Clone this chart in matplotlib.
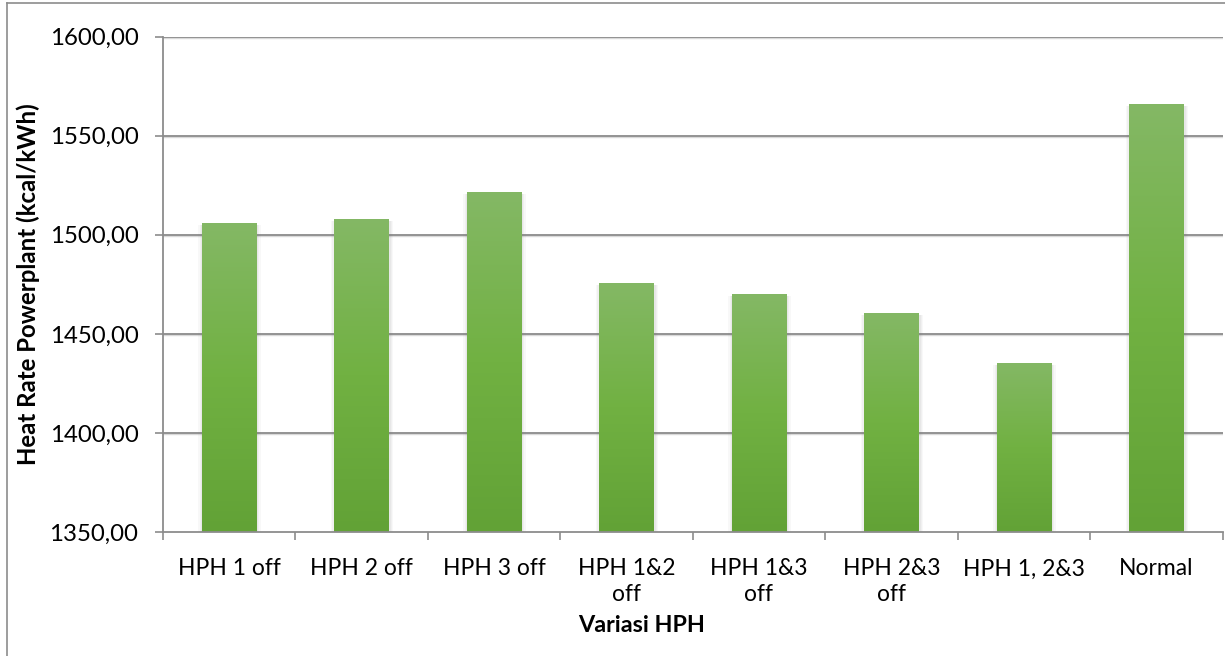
import numpy as np
import matplotlib
matplotlib.use("Agg")
import matplotlib.pyplot as plt
from matplotlib.colors import LinearSegmentedColormap
from matplotlib.lines import Line2D
from matplotlib.ticker import FuncFormatter, FixedLocator

# ---- data ----
categories = ["HPH 1 off", "HPH 2 off", "HPH 3 off", "HPH 1&2\noff",
              "HPH 1&3\noff", "HPH 2&3\noff", "HPH 1, 2&3", "Normal"]
heat_rate = [1506.2, 1508.2, 1521.4, 1475.9, 1469.9, 1460.3, 1435.5, 1566.0]
y_ticks = [1350, 1400, 1450, 1500, 1550, 1600]
x_title = "Variasi HPH"
y_title = "Heat Rate Powerplant (kcal/kWh)"

plt.rcParams['font.family'] = ['Lato', 'DejaVu Sans']

W, H = 1225, 656
fig = plt.figure(figsize=(W / 100, H / 100), dpi=100)
fig.patch.set_facecolor("white")

ax = fig.add_axes([162.7 / W, 1 - 532 / H, (1222.7 - 162.7) / W, (532 - 36.7) / H])
ax.set_facecolor("white")

ymin, ymax = y_ticks[0], y_ticks[-1]
ax.set_ylim(ymin, ymax)
ax.set_xlim(-0.5, len(categories) - 0.5)

grid_col = "#8a8a8a"
for t in y_ticks[1:]:
    ax.axhline(t, color=grid_col, lw=1.3, zorder=1)
    ax.axhline(t - 0.55, color="#d9d9d9", lw=1.0, zorder=0.9)

x = np.arange(len(categories))
bw = 0.41

# soft shadow
for k, (grow, a) in enumerate([(0.06, 0.05), (0.04, 0.06), (0.02, 0.08)]):
    ax.bar(x + 0.005, np.array(heat_rate) - ymin - 1.0, width=bw + grow,
           bottom=ymin, color="#7f7f7f", alpha=a, zorder=2, linewidth=0)

bars = ax.bar(x, np.array(heat_rate) - ymin, width=bw, bottom=ymin,
              color="none", linewidth=0, zorder=3)

cmap = LinearSegmentedColormap.from_list("g", ["#62a236", "#71b142", "#84b865"])
grad = np.linspace(0, 1, 256).reshape(-1, 1)
for b in bars:
    x0 = b.get_x()
    w = b.get_width()
    top = b.get_y() + b.get_height()
    im = ax.imshow(grad, cmap=cmap, origin="lower", aspect="auto",
                   extent=(x0, x0 + w, ymin, top), zorder=3.5, interpolation="bicubic")
    im.set_clip_path(b)

# axes styling
for s in ["top", "right"]:
    ax.spines[s].set_visible(False)
for s in ["left", "bottom"]:
    ax.spines[s].set_color("#8c8c8c")
    ax.spines[s].set_linewidth(1.3)
    ax.spines[s].set_zorder(4)

ax.yaxis.set_major_locator(FixedLocator(y_ticks))
ax.yaxis.set_major_formatter(FuncFormatter(lambda v, p: f"{v:.2f}".replace(".", ",")))
ax.tick_params(axis="y", direction="out", length=5.5, width=1.2, color="#8c8c8c",
               pad=12, labelsize=17.3, labelcolor="black")

ax.set_xticks(x)
ax.set_xticklabels(categories, linespacing=1.3)
ax.tick_params(axis="x", which="major", length=0, pad=19, labelsize=16.5, labelcolor="black")
ax.set_xticks(np.arange(len(categories) + 1) - 0.5, minor=True)
ax.tick_params(axis="x", which="minor", direction="out", length=5.5, width=1.2, color="#8c8c8c")
ax.set_xlim(-0.5, len(categories) - 0.5)

fig.text(642 / W, 1 - 626 / H, x_title, ha="center", va="center",
         fontsize=16.8, fontweight="bold")
fig.text(28 / W, 1 - 284.5 / H, y_title, ha="center", va="center", rotation=90,
         fontsize=17.3, fontweight="bold")

# chart area border (left and top visible)
bx, by = 7 / W, 1 - 3 / H
fig.add_artist(Line2D([bx, bx], [0, by], transform=fig.transFigure, color="#8c8c8c", lw=1.2))
fig.add_artist(Line2D([bx, 1], [by, by], transform=fig.transFigure, color="#8c8c8c", lw=1.2))

fig.savefig("out.png", dpi=100, facecolor="white")
